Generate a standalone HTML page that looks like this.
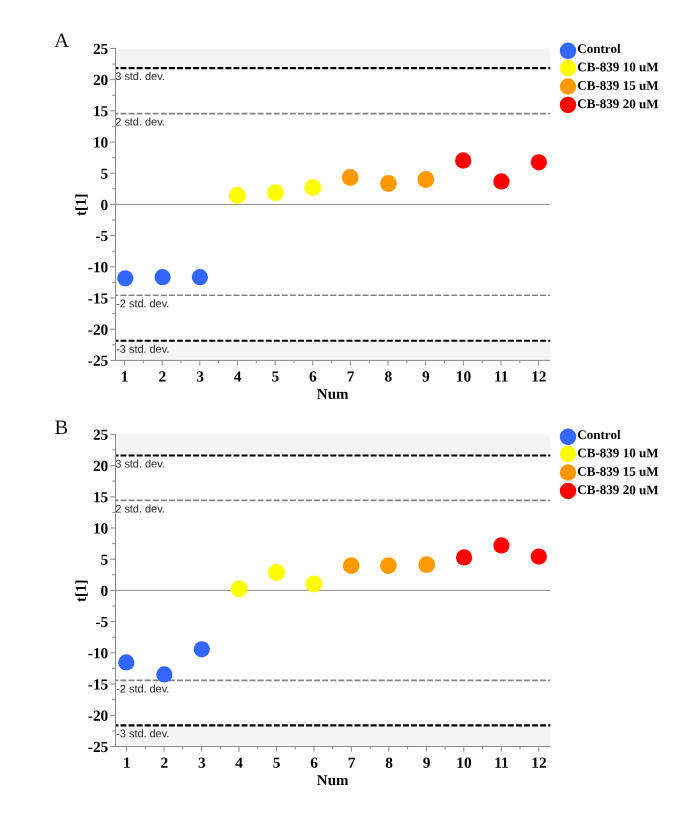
<!DOCTYPE html>
<html><head><meta charset="utf-8"><title>Figure</title>
<style>
html,body{margin:0;padding:0;background:#fff;}
body{width:685px;height:816px;overflow:hidden;}
svg{display:block;will-change:transform}
text{text-rendering:geometricPrecision}
.tk{font-family:"Liberation Serif",serif;font-weight:bold;font-size:15.4px;fill:#000}
.ti{font-family:"Liberation Serif",serif;font-weight:bold;font-size:15.0px;fill:#000}
.lg{font-family:"Liberation Serif",serif;font-weight:bold;font-size:13.1px;fill:#000}
.sd{font-family:"Liberation Sans",sans-serif;font-size:11.05px;letter-spacing:-0.06px;fill:#2a2a2a}
.pl{font-family:"Liberation Serif",serif;font-size:20.5px;fill:#111}
</style></head><body>
<svg width="685" height="816" viewBox="0 0 685 816">
<rect width="685" height="816" fill="#fff"/>
<rect x="115.5" y="48.45" width="434.80" height="19.65" fill="#f4f4f4"/>
<rect x="115.5" y="340.75" width="434.80" height="19.65" fill="#f4f4f4"/>
<line x1="115.5" y1="204.42" x2="550.3" y2="204.42" stroke="#8a8a8a" stroke-width="1"/>
<line x1="115.5" y1="68.10" x2="550.3" y2="68.10" stroke="#000" stroke-width="2.1" stroke-dasharray="5.97 2.1" stroke-dashoffset="3.07"/>
<line x1="115.5" y1="340.75" x2="550.3" y2="340.75" stroke="#000" stroke-width="2.1" stroke-dasharray="5.97 2.1" stroke-dashoffset="3.07"/>
<line x1="115.5" y1="113.59" x2="550.3" y2="113.59" stroke="#848484" stroke-width="1.7" stroke-dasharray="5.9 2.17" stroke-dashoffset="3.07"/>
<line x1="115.5" y1="295.26" x2="550.3" y2="295.26" stroke="#848484" stroke-width="1.7" stroke-dasharray="5.9 2.17" stroke-dashoffset="3.07"/>
<text transform="translate(115.30,80.10) rotate(0.03)" class="sd">3 std. dev.</text>
<text transform="translate(115.30,125.59) rotate(0.03)" class="sd">2 std. dev.</text>
<text transform="translate(116.20,352.75) rotate(0.03)" class="sd">-3 std. dev.</text>
<text transform="translate(116.20,307.26) rotate(0.03)" class="sd">-2 std. dev.</text>
<line x1="115.5" y1="47.95" x2="115.5" y2="360.9" stroke="#8a8a8a" stroke-width="1"/>
<line x1="115.0" y1="360.4" x2="550.3" y2="360.4" stroke="#8a8a8a" stroke-width="1"/>
<line x1="110.2" y1="48.45" x2="115.5" y2="48.45" stroke="#8a8a8a"/>
<text transform="translate(108.30,53.90) rotate(0.03)" class="tk" text-anchor="end">25</text>
<line x1="112.2" y1="64.05" x2="115.5" y2="64.05" stroke="#8a8a8a"/>
<line x1="110.2" y1="79.65" x2="115.5" y2="79.65" stroke="#8a8a8a"/>
<text transform="translate(108.30,85.10) rotate(0.03)" class="tk" text-anchor="end">20</text>
<line x1="112.2" y1="95.24" x2="115.5" y2="95.24" stroke="#8a8a8a"/>
<line x1="110.2" y1="110.84" x2="115.5" y2="110.84" stroke="#8a8a8a"/>
<text transform="translate(108.30,116.29) rotate(0.03)" class="tk" text-anchor="end">15</text>
<line x1="112.2" y1="126.44" x2="115.5" y2="126.44" stroke="#8a8a8a"/>
<line x1="110.2" y1="142.03" x2="115.5" y2="142.03" stroke="#8a8a8a"/>
<text transform="translate(108.30,147.48) rotate(0.03)" class="tk" text-anchor="end">10</text>
<line x1="112.2" y1="157.63" x2="115.5" y2="157.63" stroke="#8a8a8a"/>
<line x1="110.2" y1="173.23" x2="115.5" y2="173.23" stroke="#8a8a8a"/>
<text transform="translate(108.30,178.68) rotate(0.03)" class="tk" text-anchor="end">5</text>
<line x1="112.2" y1="188.83" x2="115.5" y2="188.83" stroke="#8a8a8a"/>
<line x1="110.2" y1="204.43" x2="115.5" y2="204.43" stroke="#8a8a8a"/>
<text transform="translate(108.30,209.88) rotate(0.03)" class="tk" text-anchor="end">0</text>
<line x1="112.2" y1="220.02" x2="115.5" y2="220.02" stroke="#8a8a8a"/>
<line x1="110.2" y1="235.62" x2="115.5" y2="235.62" stroke="#8a8a8a"/>
<text transform="translate(108.30,241.07) rotate(0.03)" class="tk" text-anchor="end">-5</text>
<line x1="112.2" y1="251.22" x2="115.5" y2="251.22" stroke="#8a8a8a"/>
<line x1="110.2" y1="266.81" x2="115.5" y2="266.81" stroke="#8a8a8a"/>
<text transform="translate(108.30,272.26) rotate(0.03)" class="tk" text-anchor="end">-10</text>
<line x1="112.2" y1="282.41" x2="115.5" y2="282.41" stroke="#8a8a8a"/>
<line x1="110.2" y1="298.01" x2="115.5" y2="298.01" stroke="#8a8a8a"/>
<text transform="translate(108.30,303.46) rotate(0.03)" class="tk" text-anchor="end">-15</text>
<line x1="112.2" y1="313.61" x2="115.5" y2="313.61" stroke="#8a8a8a"/>
<line x1="110.2" y1="329.20" x2="115.5" y2="329.20" stroke="#8a8a8a"/>
<text transform="translate(108.30,334.65) rotate(0.03)" class="tk" text-anchor="end">-20</text>
<line x1="112.2" y1="344.80" x2="115.5" y2="344.80" stroke="#8a8a8a"/>
<line x1="110.2" y1="360.40" x2="115.5" y2="360.40" stroke="#8a8a8a"/>
<text transform="translate(108.30,365.85) rotate(0.03)" class="tk" text-anchor="end">-25</text>
<line x1="124.50" y1="360.4" x2="124.50" y2="365.59999999999997" stroke="#8a8a8a"/>
<text transform="translate(124.70,381.40) rotate(0.03)" class="tk" text-anchor="middle">1</text>
<line x1="143.32" y1="360.4" x2="143.32" y2="363.29999999999995" stroke="#8a8a8a"/>
<line x1="162.15" y1="360.4" x2="162.15" y2="365.59999999999997" stroke="#8a8a8a"/>
<text transform="translate(162.35,381.40) rotate(0.03)" class="tk" text-anchor="middle">2</text>
<line x1="180.97" y1="360.4" x2="180.97" y2="363.29999999999995" stroke="#8a8a8a"/>
<line x1="199.80" y1="360.4" x2="199.80" y2="365.59999999999997" stroke="#8a8a8a"/>
<text transform="translate(200.00,381.40) rotate(0.03)" class="tk" text-anchor="middle">3</text>
<line x1="218.62" y1="360.4" x2="218.62" y2="363.29999999999995" stroke="#8a8a8a"/>
<line x1="237.45" y1="360.4" x2="237.45" y2="365.59999999999997" stroke="#8a8a8a"/>
<text transform="translate(237.65,381.40) rotate(0.03)" class="tk" text-anchor="middle">4</text>
<line x1="256.27" y1="360.4" x2="256.27" y2="363.29999999999995" stroke="#8a8a8a"/>
<line x1="275.10" y1="360.4" x2="275.10" y2="365.59999999999997" stroke="#8a8a8a"/>
<text transform="translate(275.30,381.40) rotate(0.03)" class="tk" text-anchor="middle">5</text>
<line x1="293.93" y1="360.4" x2="293.93" y2="363.29999999999995" stroke="#8a8a8a"/>
<line x1="312.75" y1="360.4" x2="312.75" y2="365.59999999999997" stroke="#8a8a8a"/>
<text transform="translate(312.95,381.40) rotate(0.03)" class="tk" text-anchor="middle">6</text>
<line x1="331.57" y1="360.4" x2="331.57" y2="363.29999999999995" stroke="#8a8a8a"/>
<line x1="350.40" y1="360.4" x2="350.40" y2="365.59999999999997" stroke="#8a8a8a"/>
<text transform="translate(350.60,381.40) rotate(0.03)" class="tk" text-anchor="middle">7</text>
<line x1="369.22" y1="360.4" x2="369.22" y2="363.29999999999995" stroke="#8a8a8a"/>
<line x1="388.05" y1="360.4" x2="388.05" y2="365.59999999999997" stroke="#8a8a8a"/>
<text transform="translate(388.25,381.40) rotate(0.03)" class="tk" text-anchor="middle">8</text>
<line x1="406.88" y1="360.4" x2="406.88" y2="363.29999999999995" stroke="#8a8a8a"/>
<line x1="425.70" y1="360.4" x2="425.70" y2="365.59999999999997" stroke="#8a8a8a"/>
<text transform="translate(425.90,381.40) rotate(0.03)" class="tk" text-anchor="middle">9</text>
<line x1="444.52" y1="360.4" x2="444.52" y2="363.29999999999995" stroke="#8a8a8a"/>
<line x1="463.35" y1="360.4" x2="463.35" y2="365.59999999999997" stroke="#8a8a8a"/>
<text transform="translate(463.55,381.40) rotate(0.03)" class="tk" text-anchor="middle">10</text>
<line x1="482.17" y1="360.4" x2="482.17" y2="363.29999999999995" stroke="#8a8a8a"/>
<line x1="501.00" y1="360.4" x2="501.00" y2="365.59999999999997" stroke="#8a8a8a"/>
<text transform="translate(501.20,381.40) rotate(0.03)" class="tk" text-anchor="middle">11</text>
<line x1="519.83" y1="360.4" x2="519.83" y2="363.29999999999995" stroke="#8a8a8a"/>
<line x1="538.65" y1="360.4" x2="538.65" y2="365.59999999999997" stroke="#8a8a8a"/>
<text transform="translate(538.85,381.40) rotate(0.03)" class="tk" text-anchor="middle">12</text>
<text transform="translate(332.70,398.80) rotate(0.03)" class="ti" text-anchor="middle">Num</text>
<text transform="translate(85.75,204.72) rotate(-89.97)" class="ti" text-anchor="middle">t[1]</text>
<circle cx="125.3" cy="278.3" r="8.1" fill="#3366ff"/>
<circle cx="162.6" cy="277.2" r="8.1" fill="#3366ff"/>
<circle cx="199.9" cy="277.2" r="8.1" fill="#3366ff"/>
<circle cx="237.3" cy="195.6" r="8.5" fill="#ffff00"/>
<circle cx="275.5" cy="192.7" r="8.5" fill="#ffff00"/>
<circle cx="312.8" cy="187.6" r="8.5" fill="#ffff00"/>
<circle cx="350.2" cy="177.5" r="8.4" fill="#ff9900"/>
<circle cx="388.4" cy="183.5" r="8.4" fill="#ff9900"/>
<circle cx="425.8" cy="179.5" r="8.4" fill="#ff9900"/>
<circle cx="463.2" cy="160.5" r="8.15" fill="#ff0000"/>
<circle cx="501.4" cy="181.4" r="8.15" fill="#ff0000"/>
<circle cx="538.8" cy="162.3" r="8.15" fill="#ff0000"/>
<circle cx="568.0" cy="50.80" r="8.25" fill="#3366ff"/>
<text transform="translate(577.20,52.90) rotate(0.03)" class="lg">Control</text>
<circle cx="568.0" cy="68.10" r="8.25" fill="#ffff00"/>
<text transform="translate(577.20,71.30) rotate(0.03)" class="lg">CB-839 10 uM</text>
<circle cx="568.0" cy="86.50" r="8.25" fill="#ff9900"/>
<text transform="translate(577.20,89.70) rotate(0.03)" class="lg">CB-839 15 uM</text>
<circle cx="568.0" cy="104.90" r="8.25" fill="#ff0000"/>
<text transform="translate(577.20,108.10) rotate(0.03)" class="lg">CB-839 20 uM</text>
<rect x="115.5" y="434.35" width="434.80" height="21.16" fill="#f4f4f4"/>
<rect x="115.5" y="725.34" width="434.80" height="21.16" fill="#f4f4f4"/>
<line x1="115.5" y1="590.42" x2="550.3" y2="590.42" stroke="#8a8a8a" stroke-width="1"/>
<line x1="115.5" y1="455.51" x2="550.3" y2="455.51" stroke="#000" stroke-width="2.1" stroke-dasharray="5.97 2.1" stroke-dashoffset="3.07"/>
<line x1="115.5" y1="725.34" x2="550.3" y2="725.34" stroke="#000" stroke-width="2.1" stroke-dasharray="5.97 2.1" stroke-dashoffset="3.07"/>
<line x1="115.5" y1="500.46" x2="550.3" y2="500.46" stroke="#848484" stroke-width="1.7" stroke-dasharray="5.9 2.17" stroke-dashoffset="3.07"/>
<line x1="115.5" y1="680.39" x2="550.3" y2="680.39" stroke="#848484" stroke-width="1.7" stroke-dasharray="5.9 2.17" stroke-dashoffset="3.07"/>
<text transform="translate(115.30,467.51) rotate(0.03)" class="sd">3 std. dev.</text>
<text transform="translate(115.30,512.46) rotate(0.03)" class="sd">2 std. dev.</text>
<text transform="translate(116.20,737.34) rotate(0.03)" class="sd">-3 std. dev.</text>
<text transform="translate(116.20,692.39) rotate(0.03)" class="sd">-2 std. dev.</text>
<line x1="115.5" y1="433.85" x2="115.5" y2="747.0" stroke="#8a8a8a" stroke-width="1"/>
<line x1="115.0" y1="746.5" x2="550.3" y2="746.5" stroke="#8a8a8a" stroke-width="1"/>
<line x1="110.2" y1="434.35" x2="115.5" y2="434.35" stroke="#8a8a8a"/>
<text transform="translate(108.30,439.80) rotate(0.03)" class="tk" text-anchor="end">25</text>
<line x1="112.2" y1="449.96" x2="115.5" y2="449.96" stroke="#8a8a8a"/>
<line x1="110.2" y1="465.56" x2="115.5" y2="465.56" stroke="#8a8a8a"/>
<text transform="translate(108.30,471.01) rotate(0.03)" class="tk" text-anchor="end">20</text>
<line x1="112.2" y1="481.17" x2="115.5" y2="481.17" stroke="#8a8a8a"/>
<line x1="110.2" y1="496.78" x2="115.5" y2="496.78" stroke="#8a8a8a"/>
<text transform="translate(108.30,502.23) rotate(0.03)" class="tk" text-anchor="end">15</text>
<line x1="112.2" y1="512.39" x2="115.5" y2="512.39" stroke="#8a8a8a"/>
<line x1="110.2" y1="528.00" x2="115.5" y2="528.00" stroke="#8a8a8a"/>
<text transform="translate(108.30,533.45) rotate(0.03)" class="tk" text-anchor="end">10</text>
<line x1="112.2" y1="543.60" x2="115.5" y2="543.60" stroke="#8a8a8a"/>
<line x1="110.2" y1="559.21" x2="115.5" y2="559.21" stroke="#8a8a8a"/>
<text transform="translate(108.30,564.66) rotate(0.03)" class="tk" text-anchor="end">5</text>
<line x1="112.2" y1="574.82" x2="115.5" y2="574.82" stroke="#8a8a8a"/>
<line x1="110.2" y1="590.42" x2="115.5" y2="590.42" stroke="#8a8a8a"/>
<text transform="translate(108.30,595.88) rotate(0.03)" class="tk" text-anchor="end">0</text>
<line x1="112.2" y1="606.03" x2="115.5" y2="606.03" stroke="#8a8a8a"/>
<line x1="110.2" y1="621.64" x2="115.5" y2="621.64" stroke="#8a8a8a"/>
<text transform="translate(108.30,627.09) rotate(0.03)" class="tk" text-anchor="end">-5</text>
<line x1="112.2" y1="637.25" x2="115.5" y2="637.25" stroke="#8a8a8a"/>
<line x1="110.2" y1="652.86" x2="115.5" y2="652.86" stroke="#8a8a8a"/>
<text transform="translate(108.30,658.31) rotate(0.03)" class="tk" text-anchor="end">-10</text>
<line x1="112.2" y1="668.46" x2="115.5" y2="668.46" stroke="#8a8a8a"/>
<line x1="110.2" y1="684.07" x2="115.5" y2="684.07" stroke="#8a8a8a"/>
<text transform="translate(108.30,689.52) rotate(0.03)" class="tk" text-anchor="end">-15</text>
<line x1="112.2" y1="699.68" x2="115.5" y2="699.68" stroke="#8a8a8a"/>
<line x1="110.2" y1="715.29" x2="115.5" y2="715.29" stroke="#8a8a8a"/>
<text transform="translate(108.30,720.74) rotate(0.03)" class="tk" text-anchor="end">-20</text>
<line x1="112.2" y1="730.89" x2="115.5" y2="730.89" stroke="#8a8a8a"/>
<line x1="110.2" y1="746.50" x2="115.5" y2="746.50" stroke="#8a8a8a"/>
<text transform="translate(108.30,751.95) rotate(0.03)" class="tk" text-anchor="end">-25</text>
<line x1="126.60" y1="746.5" x2="126.60" y2="751.7" stroke="#8a8a8a"/>
<text transform="translate(126.80,767.70) rotate(0.03)" class="tk" text-anchor="middle">1</text>
<line x1="145.33" y1="746.5" x2="145.33" y2="749.4" stroke="#8a8a8a"/>
<line x1="164.07" y1="746.5" x2="164.07" y2="751.7" stroke="#8a8a8a"/>
<text transform="translate(164.27,767.70) rotate(0.03)" class="tk" text-anchor="middle">2</text>
<line x1="182.81" y1="746.5" x2="182.81" y2="749.4" stroke="#8a8a8a"/>
<line x1="201.54" y1="746.5" x2="201.54" y2="751.7" stroke="#8a8a8a"/>
<text transform="translate(201.74,767.70) rotate(0.03)" class="tk" text-anchor="middle">3</text>
<line x1="220.27" y1="746.5" x2="220.27" y2="749.4" stroke="#8a8a8a"/>
<line x1="239.01" y1="746.5" x2="239.01" y2="751.7" stroke="#8a8a8a"/>
<text transform="translate(239.21,767.70) rotate(0.03)" class="tk" text-anchor="middle">4</text>
<line x1="257.75" y1="746.5" x2="257.75" y2="749.4" stroke="#8a8a8a"/>
<line x1="276.48" y1="746.5" x2="276.48" y2="751.7" stroke="#8a8a8a"/>
<text transform="translate(276.68,767.70) rotate(0.03)" class="tk" text-anchor="middle">5</text>
<line x1="295.22" y1="746.5" x2="295.22" y2="749.4" stroke="#8a8a8a"/>
<line x1="313.95" y1="746.5" x2="313.95" y2="751.7" stroke="#8a8a8a"/>
<text transform="translate(314.15,767.70) rotate(0.03)" class="tk" text-anchor="middle">6</text>
<line x1="332.69" y1="746.5" x2="332.69" y2="749.4" stroke="#8a8a8a"/>
<line x1="351.42" y1="746.5" x2="351.42" y2="751.7" stroke="#8a8a8a"/>
<text transform="translate(351.62,767.70) rotate(0.03)" class="tk" text-anchor="middle">7</text>
<line x1="370.15" y1="746.5" x2="370.15" y2="749.4" stroke="#8a8a8a"/>
<line x1="388.89" y1="746.5" x2="388.89" y2="751.7" stroke="#8a8a8a"/>
<text transform="translate(389.09,767.70) rotate(0.03)" class="tk" text-anchor="middle">8</text>
<line x1="407.62" y1="746.5" x2="407.62" y2="749.4" stroke="#8a8a8a"/>
<line x1="426.36" y1="746.5" x2="426.36" y2="751.7" stroke="#8a8a8a"/>
<text transform="translate(426.56,767.70) rotate(0.03)" class="tk" text-anchor="middle">9</text>
<line x1="445.10" y1="746.5" x2="445.10" y2="749.4" stroke="#8a8a8a"/>
<line x1="463.83" y1="746.5" x2="463.83" y2="751.7" stroke="#8a8a8a"/>
<text transform="translate(464.03,767.70) rotate(0.03)" class="tk" text-anchor="middle">10</text>
<line x1="482.57" y1="746.5" x2="482.57" y2="749.4" stroke="#8a8a8a"/>
<line x1="501.30" y1="746.5" x2="501.30" y2="751.7" stroke="#8a8a8a"/>
<text transform="translate(501.50,767.70) rotate(0.03)" class="tk" text-anchor="middle">11</text>
<line x1="520.03" y1="746.5" x2="520.03" y2="749.4" stroke="#8a8a8a"/>
<line x1="538.77" y1="746.5" x2="538.77" y2="751.7" stroke="#8a8a8a"/>
<text transform="translate(538.97,767.70) rotate(0.03)" class="tk" text-anchor="middle">12</text>
<text transform="translate(332.70,785.00) rotate(0.03)" class="ti" text-anchor="middle">Num</text>
<text transform="translate(85.75,590.72) rotate(-89.97)" class="ti" text-anchor="middle">t[1]</text>
<circle cx="126.3" cy="662.4" r="8.1" fill="#3366ff"/>
<circle cx="164.4" cy="674.4" r="8.1" fill="#3366ff"/>
<circle cx="201.8" cy="649.3" r="8.1" fill="#3366ff"/>
<circle cx="239.1" cy="588.7" r="8.5" fill="#ffff00"/>
<circle cx="276.5" cy="572.6" r="8.5" fill="#ffff00"/>
<circle cx="313.8" cy="583.9" r="8.5" fill="#ffff00"/>
<circle cx="351.2" cy="565.6" r="8.4" fill="#ff9900"/>
<circle cx="388.4" cy="565.6" r="8.4" fill="#ff9900"/>
<circle cx="426.7" cy="564.7" r="8.4" fill="#ff9900"/>
<circle cx="464.1" cy="557.4" r="8.15" fill="#ff0000"/>
<circle cx="501.4" cy="545.4" r="8.15" fill="#ff0000"/>
<circle cx="538.8" cy="556.6" r="8.15" fill="#ff0000"/>
<circle cx="568.0" cy="436.80" r="8.25" fill="#3366ff"/>
<text transform="translate(577.20,438.90) rotate(0.03)" class="lg">Control</text>
<circle cx="568.0" cy="454.10" r="8.25" fill="#ffff00"/>
<text transform="translate(577.20,457.30) rotate(0.03)" class="lg">CB-839 10 uM</text>
<circle cx="568.0" cy="472.50" r="8.25" fill="#ff9900"/>
<text transform="translate(577.20,475.70) rotate(0.03)" class="lg">CB-839 15 uM</text>
<circle cx="568.0" cy="490.90" r="8.25" fill="#ff0000"/>
<text transform="translate(577.20,494.10) rotate(0.03)" class="lg">CB-839 20 uM</text>
<text transform="translate(54.30,46.90) rotate(0.03)" class="pl">A</text>
<text transform="translate(54.50,434.10) rotate(0.03)" class="pl">B</text>
</svg>
</body></html>
